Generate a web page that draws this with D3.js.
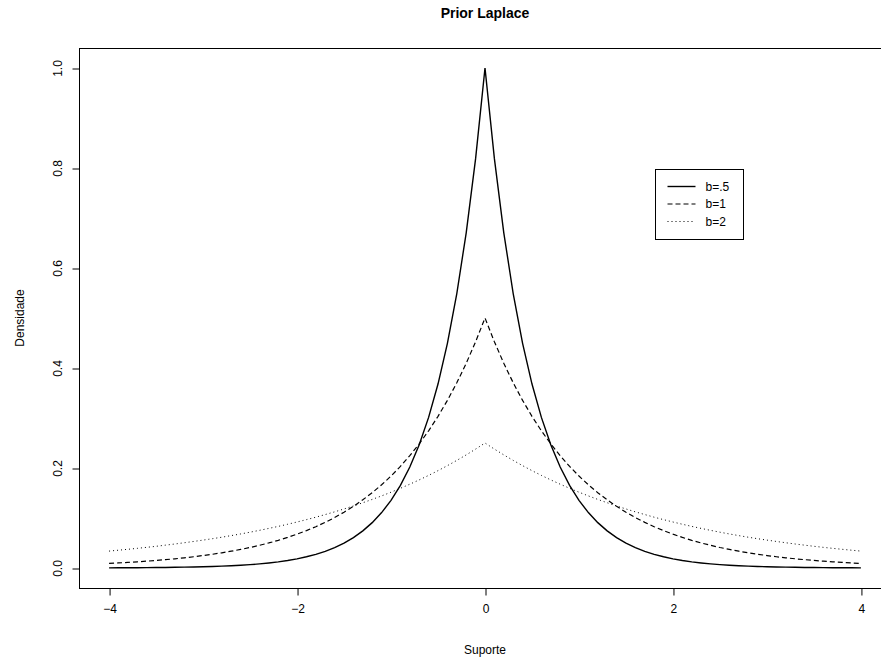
<!DOCTYPE html>
<html>
<head>
<meta charset="utf-8">
<script src="https://cdn.jsdelivr.net/npm/d3@7"></script>
<style>
  body { margin: 0; background: #fff; }
  svg text { font-family: "Liberation Sans", Arial, sans-serif; fill: #000; }
</style>
</head>
<body>
<div id="chart"></div>
<script>
// support grid, -4 .. 4 step 0.1
const xs = d3.range(-40, 41).map(i => i / 10);

// density values (b = 0.5, 1, 2)
const b05 = [
  0.0003,0.0004,0.0005,0.0006,0.0007,0.0009,0.0011,0.0014,0.0017,0.0020,
  0.0025,0.0030,0.0037,0.0045,0.0055,0.0067,0.0082,0.0101,0.0123,0.0150,
  0.0183,0.0224,0.0273,0.0334,0.0408,0.0498,0.0608,0.0743,0.0907,0.1108,
  0.1353,0.1653,0.2019,0.2466,0.3012,0.3679,0.4493,0.5488,0.6703,0.8187,
  1.0000,
  0.8187,0.6703,0.5488,0.4493,0.3679,0.3012,0.2466,0.2019,0.1653,0.1353,
  0.1108,0.0907,0.0743,0.0608,0.0498,0.0408,0.0334,0.0273,0.0224,0.0183,
  0.0150,0.0123,0.0101,0.0082,0.0067,0.0055,0.0045,0.0037,0.0030,0.0025,
  0.0020,0.0017,0.0014,0.0011,0.0009,0.0007,0.0006,0.0005,0.0004,0.0003
];
const b1 = [
  0.0092,0.0101,0.0112,0.0124,0.0137,0.0151,0.0167,0.0184,0.0204,0.0225,
  0.0249,0.0275,0.0304,0.0336,0.0371,0.0410,0.0454,0.0501,0.0554,0.0612,
  0.0677,0.0748,0.0826,0.0913,0.1009,0.1116,0.1233,0.1363,0.1506,0.1664,
  0.1839,0.2033,0.2247,0.2483,0.2744,0.3033,0.3352,0.3704,0.4094,0.4524,
  0.5000,
  0.4524,0.4094,0.3704,0.3352,0.3033,0.2744,0.2483,0.2247,0.2033,0.1839,
  0.1664,0.1506,0.1363,0.1233,0.1116,0.1009,0.0913,0.0826,0.0748,0.0677,
  0.0612,0.0554,0.0501,0.0454,0.0410,0.0371,0.0336,0.0304,0.0275,0.0249,
  0.0225,0.0204,0.0184,0.0167,0.0151,0.0137,0.0124,0.0112,0.0101,0.0092
];
const b2 = [
  0.0338,0.0356,0.0374,0.0393,0.0413,0.0434,0.0457,0.0480,0.0505,0.0531,
  0.0558,0.0586,0.0616,0.0648,0.0681,0.0716,0.0753,0.0792,0.0832,0.0875,
  0.0920,0.0967,0.1016,0.1069,0.1123,0.1181,0.1241,0.1305,0.1372,0.1442,
  0.1516,0.1594,0.1676,0.1762,0.1852,0.1947,0.2047,0.2152,0.2262,0.2378,
  0.2500,
  0.2378,0.2262,0.2152,0.2047,0.1947,0.1852,0.1762,0.1676,0.1594,0.1516,
  0.1442,0.1372,0.1305,0.1241,0.1181,0.1123,0.1069,0.1016,0.0967,0.0920,
  0.0875,0.0832,0.0792,0.0753,0.0716,0.0681,0.0648,0.0616,0.0586,0.0558,
  0.0531,0.0505,0.0480,0.0457,0.0434,0.0413,0.0393,0.0374,0.0356,0.0338
];

const seriesNames = ["b=.5", "b=1", "b=2"];
const xTicks = [-4, -2, 0, 2, 4];
const yTicks = [0, 0.2, 0.4, 0.6, 0.8, 1.0];

const W = 881, H = 661;
const pL = 79, pR = 891, pT = 48, pB = 588;

const svg = d3.select("#chart").append("svg")
  .attr("width", W).attr("height", H);

// R style: 4% padding on each side
const x = d3.scaleLinear().domain([-4.32, 4.32]).range([pL, pR]);
const y = d3.scaleLinear().domain([-0.04, 1.04]).range([pB, pT]);

// frame
svg.append("rect")
  .attr("x", pL + 0.5).attr("y", pT + 0.5)
  .attr("width", pR - pL).attr("height", pB - pT)
  .attr("fill", "none").attr("stroke", "#000").attr("stroke-width", 1);

// axes
const xAxis = d3.axisBottom(x).tickValues(xTicks).tickSize(7).tickPadding(9)
  .tickFormat(d => d < 0 ? "\u2212" + Math.abs(d) : d);
const gx = svg.append("g").attr("transform", `translate(0.5,${pB + 0.5})`).call(xAxis);
gx.select(".domain").remove();
gx.selectAll("text").style("font-size", "12px");

const yAxis = d3.axisLeft(y).tickValues(yTicks).tickSize(7).tickPadding(0)
  .tickFormat(d3.format(".1f"));
const gy = svg.append("g").attr("transform", `translate(${pL + 0.5},0.5)`).call(yAxis);
gy.select(".domain").remove();
gy.selectAll("text")
  .style("font-size", "12px")
  .attr("text-anchor", "middle")
  .attr("transform", "translate(-22,-0.5) rotate(-90)")
  .attr("x", 0).attr("y", 0).attr("dy", "0.35em");

// curves
const line = d3.line().x((d, i) => x(xs[i])).y(d => y(d));
const styles = [
  { data: b05, dash: null, w: 1.4 },
  { data: b1, dash: "5,3", w: 1.2 },
  { data: b2, dash: "1,3", w: 1 }
];
styles.forEach(s => {
  svg.append("path")
    .datum(s.data)
    .attr("d", line)
    .attr("fill", "none")
    .attr("stroke", "#000")
    .attr("stroke-width", s.w)
    .attr("stroke-dasharray", s.dash);
});

// title and axis labels
svg.append("text").attr("x", (pL + pR) / 2).attr("y", 18)
  .attr("text-anchor", "middle").style("font-size", "14px").style("font-weight", "bold")
  .text("Prior Laplace");
svg.append("text").attr("x", (pL + pR) / 2).attr("y", 654)
  .attr("text-anchor", "middle").style("font-size", "12px")
  .text("Suporte");
svg.append("text")
  .attr("transform", `translate(24,${(pT + pB) / 2}) rotate(-90)`)
  .attr("text-anchor", "middle").style("font-size", "12px")
  .text("Densidade");

// legend
const lg = svg.append("g").attr("transform", "translate(655.5,169.5)");
lg.append("rect").attr("width", 88).attr("height", 70)
  .attr("fill", "#fff").attr("stroke", "#000");
styles.forEach((s, i) => {
  const yy = 17 + i * 17.5;
  lg.append("line").attr("x1", 12).attr("x2", 40).attr("y1", yy).attr("y2", yy)
    .attr("stroke", "#000").attr("stroke-width", s.w).attr("stroke-dasharray", s.dash);
  lg.append("text").attr("x", 50).attr("y", yy).attr("dy", "0.35em")
    .style("font-size", "12px").text(seriesNames[i]);
});
</script>
</body>
</html>
